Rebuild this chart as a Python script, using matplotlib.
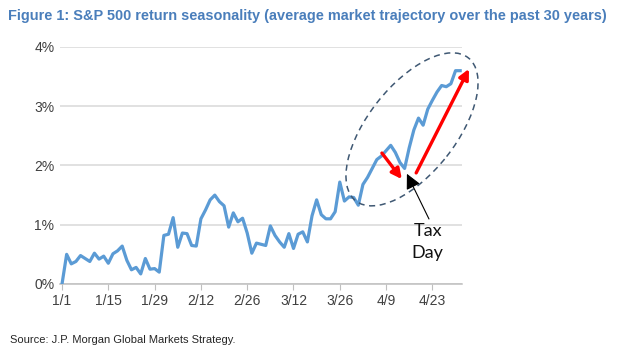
import matplotlib.pyplot as plt
import matplotlib.transforms as mtransforms
from matplotlib.patches import Ellipse
from matplotlib import font_manager

# average S&P 500 path, trading days from 1/1 (in %)
returns = [
    0.00, 0.50, 0.34, 0.38, 0.48, 0.43, 0.38, 0.52, 0.42, 0.47,
    0.35, 0.51, 0.56, 0.64, 0.40, 0.24, 0.28, 0.17, 0.43, 0.25,
    0.26, 0.20, 0.82, 0.84, 1.12, 0.62, 0.86, 0.85, 0.65, 0.64,
    1.10, 1.25, 1.42, 1.50, 1.39, 1.32, 0.96, 1.20, 1.05, 1.11,
    0.86, 0.52, 0.69, 0.67, 0.65, 0.98, 0.82, 0.71, 0.62, 0.85,
    0.60, 0.84, 0.88, 0.71, 1.15, 1.42, 1.17, 1.10, 1.10, 1.22,
    1.72, 1.40, 1.47, 1.46, 1.33, 1.68, 1.80, 1.95, 2.10, 2.16,
    2.25, 2.34, 2.22, 2.05, 1.95, 2.30, 2.60, 2.80, 2.68, 2.95,
    3.10, 3.24, 3.35, 3.33, 3.38, 3.60, 3.60,
]
tick_labels = ["1/1", "1/15", "1/29", "2/12", "2/26", "3/12", "3/26", "4/9", "4/23"]
tick_step = 10
y_ticks = [0, 1, 2, 3, 4]

installed = {f.name for f in font_manager.fontManager.ttflist}
narrow = [f for f in ["Liberation Sans Narrow", "Liberation Sans"] if f in installed]
plt.rcParams["font.family"] = narrow + ["DejaVu Sans"]

fig = plt.figure(figsize=(6.24, 3.52), dpi=100)
ax = fig.add_axes([0.0962, 0.1932, 0.6442, 0.6733])

days = list(range(len(returns)))
ax.plot(days, returns, color="#5b9bd5", lw=2.3, solid_joinstyle="round", zorder=3)

ax.set_xlim(-0.43, 86.4)
ax.set_ylim(0, 4)
ax.set_xticks([i * tick_step for i in range(len(tick_labels))])
ax.set_xticklabels(tick_labels)
ax.set_yticks(y_ticks)
ax.set_yticklabels([f"{v}%" for v in y_ticks])
ax.tick_params(axis="x", length=4, width=0.8, color="#bfbfbf", labelsize=10,
               labelcolor="#404040", pad=3)
ax.tick_params(axis="y", length=0, labelsize=10, labelcolor="#404040", pad=4)
ax.grid(axis="y", color="#d9d9d9", lw=1.1)
ax.set_axisbelow(True)
for side in ["top", "right", "left"]:
    ax.spines[side].set_visible(False)
ax.spines["bottom"].set_color("#bfbfbf")
ax.spines["bottom"].set_linewidth(1.1)

# dashed ellipse around the April move (size in inches, centred on data point)
trans = fig.dpi_scale_trans + mtransforms.ScaledTranslation(75.6, 2.61, ax.transData)
ax.add_patch(Ellipse((0, 0), 1.82, 0.88, angle=51.8, transform=trans, fill=False,
                     ec="#3f5873", lw=1.1, ls=(0, (4, 3)), clip_on=False, zorder=4))

# red arrows
red = dict(arrowstyle="-|>,head_length=0.6,head_width=0.3", color="#ff0000", lw=2.4,
           shrinkA=0, shrinkB=0)
ax.annotate("", xy=(73.4, 1.77), xytext=(69.1, 2.21), arrowprops=red,
            annotation_clip=False, zorder=5)
ax.annotate("", xy=(87.9, 3.63), xytext=(76.5, 1.875), arrowprops=red,
            annotation_clip=False, zorder=5)

# tax day pointer
ax.annotate("Tax\nDay", xy=(74.5, 1.86), xytext=(79.0, 0.71),
            ha="center", va="center", fontsize=13, family=["Lato", "DejaVu Sans"],
            color="#111111", linespacing=1.45,
            arrowprops=dict(arrowstyle="-|>,head_length=0.7,head_width=0.35",
                            color="black", lw=0.8, shrinkA=1, shrinkB=0,
                            relpos=(0.6, 1.0)),
            zorder=5)

fig.text(0.013, 0.955, "Figure 1: S&P 500 return seasonality (average market trajectory "
         "over the past 30 years)", fontsize=10.45, fontweight="bold", color="#4a7ebb",
         ha="left", va="center")
fig.text(0.016, 0.035, "Source: J.P. Morgan Global Markets Strategy.", fontsize=8,
         color="#262626", ha="left", va="center")

fig.savefig("out.png", dpi=100)
